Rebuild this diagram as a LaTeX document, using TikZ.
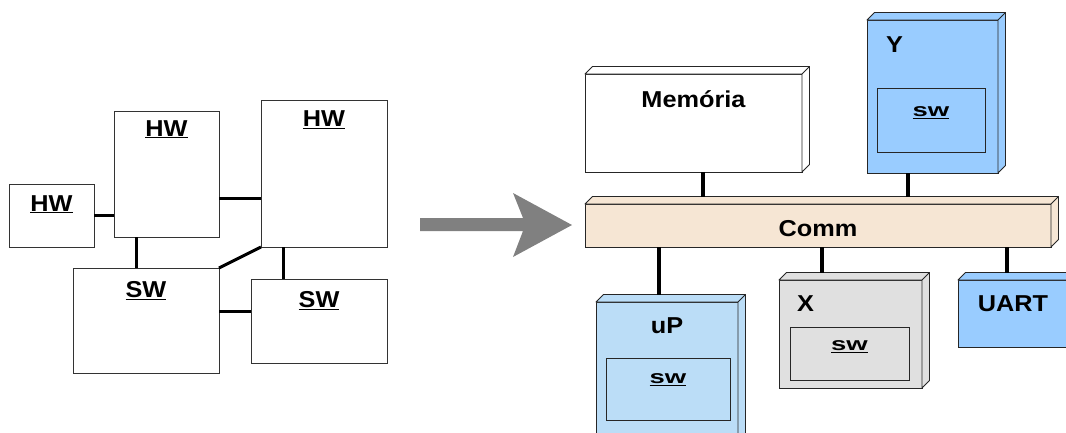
\documentclass[tikz,border=0pt]{standalone}
\usepackage{fontspec}
\setmainfont[FakeStretch=1.1]{Liberation Sans}
\usepackage{tikz}
\usetikzlibrary{positioning}

\definecolor{hwblue}{HTML}{99CCFF}
\definecolor{upblue}{HTML}{BBDDF7}
\definecolor{commtan}{HTML}{F6E6D4}
\definecolor{xgray}{HTML}{E0E0E0}

% top and side faces of a 3d node
\newcommand{\drawdepth}[2]{%
  \draw[fill=#2, draw=black!85, line width=0.9pt, line join=round]
    (#1.north west) -- ++(7.5pt,7.5pt) -- ([shift={(7.5pt,7.5pt)}]#1.north east)
    -- ([shift={(7.5pt,7.5pt)}]#1.south east) -- (#1.south east) -- (#1.north east) -- cycle;
  \draw[black!85, line width=0.9pt] (#1.north east) -- ++(7.5pt,7.5pt);
}
\newcommand{\swtext}{\scalebox{1.35}[1]{\underline{sw}}}

\begin{document}
\begin{tikzpicture}[x = 1pt, y = -1pt,
    Blk/.style = {rectangle, draw = black!80, line width = 1pt, outer sep = 0pt, inner sep = 0pt},
    Cube/.style = {rectangle, draw = black!85, line width = 0.9pt, outer sep = 0pt, inner sep = 0pt},
    Inner/.style = {rectangle, draw = black!85, line width = 0.9pt, outer sep = 0pt, inner sep = 0pt},
    Lbl/.style = {inner sep = 0pt, font = \fontsize{23}{26}\selectfont\bfseries},
    Sw/.style = {inner sep = 0pt, font = \fontsize{18.5}{21}\selectfont\bfseries},
    Link/.style = {line width = 3pt},
    Bus/.style = {line width = 3.5pt}]
        \useasboundingbox (0,0) rectangle (1066,432);

        % left: hardware / software blocks
        \node [Blk, minimum width = 85pt, minimum height = 63pt] (hw1) at (51.5,215.5) {};
        \node [Blk, minimum width = 105pt, minimum height = 126pt] (hw2) at (166.5,174) {};
        \node [Blk, minimum width = 126pt, minimum height = 147pt] (hw3) at (324,173.5) {};
        \node [Blk, minimum width = 146pt, minimum height = 105pt] (sw1) at (146,320.5) {};
        \node [Blk, minimum width = 136pt, minimum height = 84pt] (sw2) at (319,321) {};
        \node [Lbl, below = 11pt of hw1.north] (hw1l) {\underline{HW}};
        \node [Lbl, below = 9pt of hw2.north] (hw2l) {\underline{HW}};
        \node [Lbl, below = 10.5pt of hw3.north] (hw3l) {\underline{HW}};
        \node [Lbl, below = 13.5pt of sw1.north] (sw1l) {\underline{SW}};
        \node [Lbl, below = 12pt of sw2.north] (sw2l) {\underline{SW}};

        \draw [Link] (hw1.east) -- (hw1.east -| hw2.west);
        \draw [Link] ([yshift=-24pt]hw2.east) -- ([yshift=-24pt]hw2.east -| hw3.west);
        \draw [Link] ([xshift=-30.5pt]hw2.south) -- ([xshift=-30.5pt]hw2.south |- sw1.north);
        \draw [Link] (hw3.south west) -- (sw1.north east);
        \draw [Link] ([xshift=-41pt]hw3.south) -- ([xshift=-41pt]hw3.south |- sw2.north);
        \draw [Link] ([yshift=9.5pt]sw1.east) -- ([yshift=9.5pt]sw1.east -| sw2.west);

        % arrow
        \fill [black!50] (420,218) -- (523,218) -- (513,193) -- (572,225) -- (513,257) -- (523,231) -- (420,231) -- cycle;

        % right: platform
        \node [Cube, fill = white, minimum width = 217pt, minimum height = 98pt] (mem) at (693.5,123) {};
        \node [Cube, fill = hwblue, minimum width = 131pt, minimum height = 153pt] (ybox) at (932.5,96.5) {};
        \node [Cube, fill = commtan, minimum width = 466pt, minimum height = 43pt] (comm) at (818,225.5) {};
        \node [Cube, fill = upblue, minimum width = 142pt, minimum height = 143pt] (up) at (667,373.5) {};
        \node [Cube, fill = xgray, minimum width = 143pt, minimum height = 108pt] (xbox) at (850.5,334) {};
        \node [Cube, fill = hwblue, minimum width = 110pt, minimum height = 67pt] (uart) at (1013,313.5) {};
        \drawdepth{mem}{white}
        \drawdepth{ybox}{hwblue}
        \drawdepth{comm}{commtan}
        \drawdepth{up}{upblue}
        \drawdepth{xbox}{xgray}
        \drawdepth{uart}{hwblue}

        \node [Inner, minimum width = 108pt, minimum height = 64pt] (yin) at (931,120) {};
        \node [Inner, minimum width = 124pt, minimum height = 62pt] (upin) at (668,389) {};
        \node [Inner, minimum width = 119pt, minimum height = 53pt] (xin) at (849.5,353.5) {};

        \node [Lbl, below = 16pt of mem.north] (meml) {Memória};
        \node [Lbl, below right = 16pt and 19pt of ybox.north west] (yl) {Y};
        \node [Lbl, below = 16pt of comm.north] (comml) {Comm};
        \node [Lbl, below = 15pt of up.north] (upl) {uP};
        \node [Lbl, below right = 15pt and 18pt of xbox.north west] (xl) {X};
        \node [Lbl, below = 15pt of uart.north] (uartl) {UART};
        \node [Sw, below = 18pt of yin.north] (yinl) {\swtext};
        \node [Sw, below = 15pt of upin.north] (upinl) {\swtext};
        \node [Sw, below = 13pt of xin.north] (xinl) {\swtext};

        \coordinate (cbk) at ([yshift=7.5pt]comm.north);
        \draw [Bus] ([xshift=9.5pt]mem.south) -- ([xshift=9.5pt]mem.south |- cbk);
        \draw [Bus] ([xshift=-24.5pt]ybox.south) -- ([xshift=-24.5pt]ybox.south |- cbk);
        \draw [Bus] ([xshift=-8pt]up.north |- comm.south) -- ([shift={(-8pt,7.5pt)}]up.north);
        \draw [Bus] ([xshift=-28.5pt]xbox.north |- comm.south) -- ([shift={(-28.5pt,7.5pt)}]xbox.north);
        \draw [Bus] ([xshift=-6pt]uart.north |- comm.south) -- ([shift={(-6pt,7.5pt)}]uart.north);
    \end{tikzpicture}
\end{document}
